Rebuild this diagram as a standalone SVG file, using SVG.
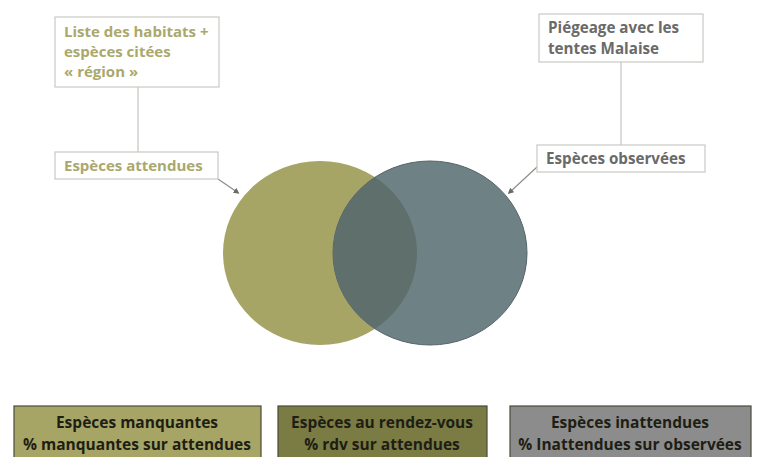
<svg xmlns="http://www.w3.org/2000/svg" width="758" height="457" viewBox="0 0 758 457">
<style>
  text { font-family: "Open Sans", "Liberation Sans", sans-serif; font-weight: bold; }
  .lbl { fill: #ffffff; stroke: #c9c9c4; stroke-width: 1.2; }
  .olive { fill: #aaa86c; font-size: 15px; }
  .grey { fill: #6a6a6a; font-size: 15.2px; }
  .conn { stroke: #c4c4c0; stroke-width: 1.2; fill: none; }
  .conn2 { stroke: #8d8d8a; stroke-width: 1.2; fill: none; }
  .bot { font-size: 15.5px; fill: #1e1e14; text-anchor: middle; }
  .bbox { stroke: #4a4a3a; stroke-width: 1.2; }
</style>
<defs>
  <marker id="dot" viewBox="0 0 6 6" refX="3" refY="3" markerWidth="5" markerHeight="5" orient="auto">
    <path d="M0,0 L6,3 L0,6 z" fill="#6a6a66"/>
  </marker>
  <clipPath id="leftClip"><ellipse cx="320" cy="253" rx="97" ry="92"/></clipPath>
</defs>

<g id="venn">
  <ellipse id="attendues" cx="320" cy="253" rx="97" ry="92" fill="#a7a566"/>
  <ellipse id="observees" cx="430" cy="253" rx="97" ry="92" fill="#6e8185" stroke="#56646a" stroke-width="1"/>
  <ellipse id="rdv" cx="430" cy="253" rx="97" ry="92" fill="#5f6f6b" clip-path="url(#leftClip)"/>
</g>

<g id="connectors">
  <line class="conn" x1="138" y1="87" x2="138" y2="152"/>
  <line class="conn2" x1="218" y1="179" x2="237" y2="192" marker-end="url(#dot)"/>
  <line class="conn" x1="621" y1="62" x2="621" y2="145"/>
  <line class="conn2" x1="537" y1="167" x2="510" y2="192" marker-end="url(#dot)"/>
</g>

<g id="box-habitats">
  <rect class="lbl" x="55" y="17" width="164" height="70"/>
  <text class="olive" x="64" y="37">Liste des habitats +</text>
  <text class="olive" x="64" y="57">espèces citées</text>
  <text class="olive" x="64" y="77">« région »</text>
</g>

<g id="box-attendues">
  <rect class="lbl" x="55" y="152" width="163" height="27"/>
  <text class="olive" x="64" y="171">Espèces attendues</text>
</g>

<g id="box-piegeage">
  <rect class="lbl" x="539" y="14" width="164" height="48"/>
  <text class="grey" x="548" y="33">Piégeage avec les</text>
  <text class="grey" x="548" y="54">tentes Malaise</text>
</g>

<g id="box-observees">
  <rect class="lbl" x="537" y="145" width="168" height="27"/>
  <text class="grey" x="546" y="164">Espèces observées</text>
</g>

<g id="box-manquantes">
  <rect class="bbox" x="14" y="406" width="247" height="56" fill="#a7a566"/>
  <text class="bot" x="137" y="428">Espèces manquantes</text>
  <text class="bot" x="137" y="450">% manquantes sur attendues</text>
</g>

<g id="box-rdv">
  <rect class="bbox" x="278" y="406" width="209" height="56" fill="#7b7b44"/>
  <text class="bot" x="382" y="428">Espèces au rendez-vous</text>
  <text class="bot" x="382" y="450">% rdv sur attendues</text>
</g>

<g id="box-inattendues">
  <rect class="bbox" x="510" y="406" width="241" height="56" fill="#8c8c8c" stroke="#5a5a5a"/>
  <text class="bot" x="630" y="428">Espèces inattendues</text>
  <text class="bot" x="630" y="450">% Inattendues sur observées</text>
</g>
</svg>
